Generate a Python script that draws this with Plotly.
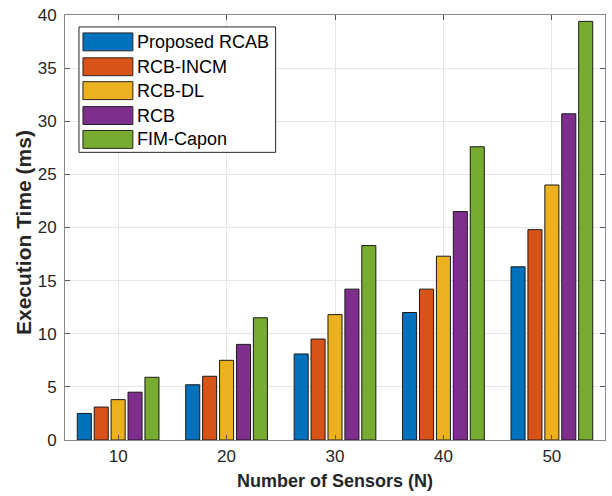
import plotly.graph_objects as go

# Execution time (ms) per method versus number of array sensors
sensors = [10, 20, 30, 40, 50]
methods = ["Proposed RCAB", "RCB-INCM", "RCB-DL", "RCB", "FIM-Capon"]
proposed_rcab = [2.5, 5.2, 8.1, 12.0, 16.3]
rcb_incm = [3.1, 6.0, 9.5, 14.2, 19.8]
rcb_dl = [3.8, 7.5, 11.8, 17.3, 24.0]
rcb = [4.5, 9.0, 14.2, 21.5, 30.7]
fim_capon = [5.9, 11.5, 18.3, 27.6, 39.4]
series = [proposed_rcab, rcb_incm, rcb_dl, rcb, fim_capon]
colors = ["#0072BD", "#D95319", "#EDB120", "#7E2F8E", "#77AC30"]
y_ticks = [0, 5, 10, 15, 20, 25, 30, 35, 40]

W, H = 612, 496
ML, MR, MT, MB = 65, 6, 13, 56
PW, PH = W - ML - MR, H - MT - MB

FAMILY = "Liberation Sans, Arial, sans-serif"

fig = go.Figure()
for name, vals, col in zip(methods, series, colors):
    fig.add_trace(go.Bar(
        x=sensors, y=vals, name=name, showlegend=False,
        marker=dict(color=col, line=dict(color="#1a1a1a", width=1)),
    ))

tick_font = dict(family=FAMILY, size=17, color="#262626")

fig.update_layout(
    width=W, height=H,
    margin=dict(l=ML, r=MR, t=MT, b=MB),
    paper_bgcolor="white", plot_bgcolor="white",
    barmode="group", bargap=0.22, bargroupgap=0.17,
    font=tick_font,
    xaxis=dict(
        range=[5.1, 54.9], tickvals=sensors, ticktext=[str(s) for s in sensors],
        ticks="inside", ticklen=5, tickcolor="#555555", ticklabelstandoff=1,
        showline=True, linecolor="#888888", linewidth=1, mirror="allticks",
        showgrid=True, gridcolor="#e6e6e6", gridwidth=1, zeroline=False,
        tickfont=tick_font,
    ),
    yaxis=dict(
        range=[0, 40], tickvals=y_ticks,
        ticks="inside", ticklen=5, tickcolor="#555555", ticklabelstandoff=4,
        showline=True, linecolor="#888888", linewidth=1, mirror="allticks",
        showgrid=True, gridcolor="#e6e6e6", gridwidth=1, zeroline=False,
        tickfont=tick_font,
    ),
)


def px(x):
    return (x - ML) / PW


def py(y):
    return (H - MB - y) / PH


annotations = [
    # axis titles
    dict(xref="paper", yref="paper", x=px(335), y=py(481),
         text="<b>Number of Sensors (N)</b>", showarrow=False,
         xanchor="center", yanchor="middle",
         font=dict(family=FAMILY, size=18, color="#262626")),
    dict(xref="paper", yref="paper", x=px(24), y=py(232),
         text="<b>Execution Time (ms)</b>", showarrow=False, textangle=-90,
         xanchor="center", yanchor="middle",
         font=dict(family=FAMILY, size=21, color="#262626")),
]

# Legend box with wide colour swatches
shapes = [dict(type="rect", xref="paper", yref="paper",
               x0=px(79), x1=px(276), y0=py(151), y1=py(25),
               line=dict(color="#262626", width=1), fillcolor="white", layer="above")]
row_centers = [40, 65, 89, 114, 138]
for name, col, yc in zip(methods, colors, row_centers):
    shapes.append(dict(type="rect", xref="paper", yref="paper",
                       x0=px(83), x1=px(133), y0=py(yc + 9), y1=py(yc - 9),
                       line=dict(color="#262626", width=1), fillcolor=col, layer="above"))
    annotations.append(dict(xref="paper", yref="paper", x=px(135), y=py(yc),
                            text=name, showarrow=False, xanchor="left", yanchor="middle",
                            font=dict(family=FAMILY, size=18, color="#000000")))
fig.update_layout(shapes=shapes, annotations=annotations)

fig.write_html("out.html")
